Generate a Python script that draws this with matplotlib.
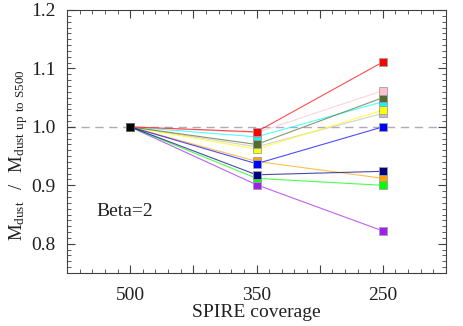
import matplotlib
matplotlib.use("Agg")
import matplotlib.pyplot as plt
from matplotlib.ticker import MultipleLocator, FixedLocator

plt.rcParams['font.family'] = ['Liberation Serif', 'DejaVu Serif']
plt.rcParams['mathtext.fontset'] = 'custom'
plt.rcParams['mathtext.rm'] = 'Liberation Serif'

categories = ['500', '350', '250']
series_colors = ['silver', 'yellow', 'cyan', 'darkolivegreen', 'pink', 'red',
                 'orange', 'blue', '#a020f0', 'lime', 'navy']
v500 = [1.0] * 11
v350 = [0.966, 0.962, 0.983, 0.970, 0.990, 0.9915,
        0.941, 0.937, 0.901, 0.912, 0.918]
v250 = [1.023, 1.0285, 1.043, 1.050, 1.062, 1.111,
        0.912, 1.000, 0.822, 0.900, 0.924]

fig = plt.figure(figsize=(4.63, 3.26), dpi=100)
ax = fig.add_axes([67/463, 1-273/326, (446-67)/463, (273-10)/326])

xs = [0, 1, 2]
ax.axhline(1.0, color='#b4a8c0', lw=1.0, dashes=(6, 4), zorder=1)

for c, a, b, d in zip(series_colors, v500, v350, v250):
    ax.plot(xs, [a, b, d], color=c, lw=0.8, alpha=0.7, zorder=2)
for c, a, b, d in zip(series_colors, v500, v350, v250):
    ax.plot(xs[1:], [b, d], ls='none', marker='s', ms=6, mfc=c,
            mec='#a0a0a0', mew=0.6, zorder=3)
ax.plot([0], [1.0], ls='none', marker='s', ms=6, mfc='black', mec='#606060',
        mew=0.6, zorder=4)

ax.set_xlim(-0.5, 2.5)
ax.set_ylim(0.75, 1.2)
ax.xaxis.set_major_locator(FixedLocator([0, 0.5, 1, 1.5, 2]))
ax.set_xticklabels([categories[0], '', categories[1], '', categories[2]])
ax.xaxis.set_minor_locator(MultipleLocator(0.1))
ax.yaxis.set_major_locator(MultipleLocator(0.1))
ax.yaxis.set_minor_locator(MultipleLocator(0.01))
ax.tick_params(which='both', direction='in', top=True, right=True,
               colors='#404040', labelcolor='#202020', labelsize=14)
ax.tick_params(which='major', length=6, width=0.8)
ax.tick_params(which='minor', length=3, width=0.6)
ax.tick_params(axis='x', which='major', pad=10)
ax.tick_params(axis='y', which='major', pad=8)
ax.yaxis.set_major_formatter(matplotlib.ticker.FormatStrFormatter('%.1f'))
for s in ax.spines.values():
    s.set_color('#404040')
    s.set_linewidth(0.8)

ax.set_xlabel('SPIRE coverage', fontsize=14, color='#202020', labelpad=0)
ax.set_ylabel(r'$\mathregular{M_{dust}\ \ /\ \ M_{dust\ up\ to\ S500}}$',
              fontsize=13.5, color='#202020', labelpad=8)
ax.yaxis.set_label_coords(-0.097, 0.45)
ax.text(-0.27, 0.855, 'Beta=2', fontsize=14, color='#202020', va='center')

fig.savefig('out.png', dpi=100)
